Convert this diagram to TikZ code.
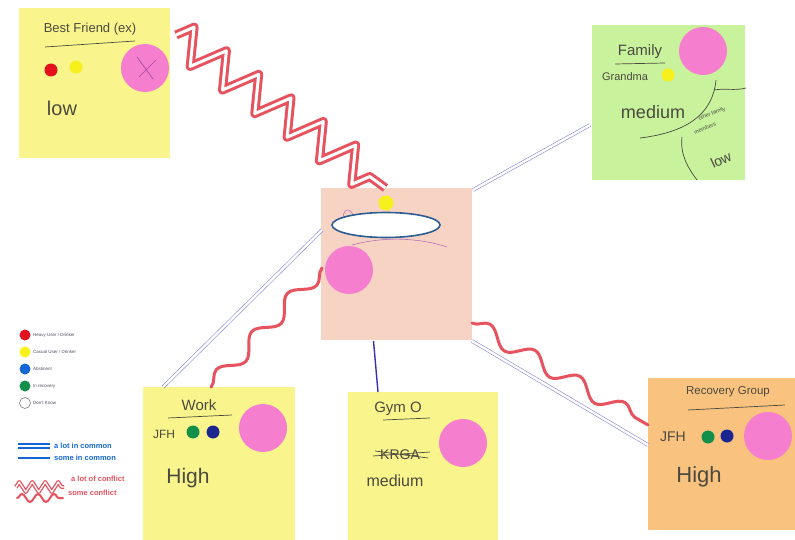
\documentclass[tikz,border=0pt]{standalone}
\usepackage{fontspec}
\setmainfont{Liberation Sans}
\usetikzlibrary{decorations.pathmorphing,calc,shapes.geometric}
\definecolor{noteyellow}{HTML}{F9F58C}
\definecolor{notegreen}{HTML}{C9F29C}
\definecolor{notepink}{HTML}{F7D3C4}
\definecolor{noteorange}{HTML}{FAC27F}
\definecolor{stickpink}{HTML}{F57ECF}
\definecolor{dotred}{HTML}{E5101E}
\definecolor{dotyellow}{HTML}{F7F01C}
\definecolor{dotnavy}{HTML}{1B2690}
\definecolor{dotgreen}{HTML}{12904A}
\definecolor{dotblue}{HTML}{1466D2}
\definecolor{linkblue}{HTML}{8A8ADE}
\definecolor{gymblue}{HTML}{3A30B0}
\definecolor{confred}{HTML}{E6525E}
\definecolor{handgray}{HTML}{4A4A40}
\definecolor{ellblue}{HTML}{2E5D93}
\definecolor{legtext}{HTML}{505060}
\tikzset{
  note/.style={anchor=north west, inner sep=0pt, outer sep=0pt, draw=none},
  dot/.style={circle, inner sep=0pt, minimum size=13pt},
  legdot/.style={circle, inner sep=0pt, minimum size=11pt},
  bigdot/.style={circle, inner sep=0pt, minimum size=48pt, fill=stickpink},
  hand/.style={text=handgray, inner sep=0pt},
  pen/.style={draw=handgray, line width=0.7pt},
  bigconflict/.style={draw=confred, line width=3pt, double=white, double distance=3pt, line join=round,
     decorate, decoration={zigzag, segment length=40pt, amplitude=17pt}},
  someconflict/.style={draw=confred, line width=3pt, line cap=round,
     decorate, decoration={snake, segment length=52pt, amplitude=8pt}},
  lotcommon/.style={draw=linkblue, line width=0.6pt, double=white, double distance=2.4pt},
  somecommon/.style={draw=gymblue, line width=1.4pt},
  legtxt/.style={anchor=west, inner sep=0pt, text=legtext, font=\fontsize{4.5}{5}\selectfont},
}
\begin{document}
\begin{tikzpicture}[x=1pt,y=-1pt]
\useasboundingbox (0,0) rectangle (795,540);
\fill[white] (0,0) rectangle (795,540);

% sticky notes
\node[note, fill=noteyellow, minimum width=151pt, minimum height=150pt] (bf) at (19,8) {};
\node[note, fill=notegreen, minimum width=153pt, minimum height=155pt] (fam) at (592,25) {};
\node[note, fill=notepink, minimum width=151pt, minimum height=152pt] (ctr) at (321,188) {};
\node[note, fill=noteyellow, minimum width=152pt, minimum height=153pt] (work) at (143,387) {};
\node[note, fill=noteyellow, minimum width=150pt, minimum height=148pt] (gym) at (348,392) {};
\node[note, fill=noteorange, minimum width=147pt, minimum height=152pt] (rec) at (648,378) {};

% connectors
\draw[bigconflict] ([shift={(6,27)}]bf.north east) -- ([shift={(-11,0)}]ctr.north);
\draw[lotcommon] ([shift={(1,2)}]ctr.north east) -- ([shift={(-2,100)}]fam.north west);
\draw[lotcommon] ([shift={(1,42)}]ctr.north west) -- ([shift={(20,0)}]work.north west);
\draw[lotcommon] ([shift={(0,1)}]ctr.south east) -- ([shift={(0,67)}]rec.north west);
\draw[somecommon] ([shift={(-23,1)}]ctr.south) -- ([shift={(-45,0)}]gym.north);
\draw[someconflict] ([shift={(1,80)}]ctr.north west) -- ([shift={(68,0)}]work.north west);
\draw[someconflict] ([shift={(0,-17)}]ctr.south east) -- ([shift={(0,47)}]rec.north west);

% Best Friend (ex)
\node[hand, font=\fontsize{13}{15}\selectfont] (bft) at (90,29) {Best Friend (ex)};
\draw[pen] (45,47) -- (135,41);
\node[dot, fill=dotred] (bfr) at (51,70) {};
\node[dot, fill=dotyellow] (bfy) at (76,67) {};
\node[bigdot] (bfp) at (145,68) {};
\draw[draw=violet!70, line width=0.7pt] (137,57) -- (153,79) (139,77) -- (156,60);
\node[hand, font=\fontsize{20}{22}\selectfont] (bfl) at (62,108) {low};

% Family
\node[hand, font=\fontsize{15}{17}\selectfont] (famt) at (640,52) {Family};
\draw[pen] (615,64) -- (665,63);
\node[bigdot] (famp) at (703,51) {};
\node[hand, font=\fontsize{11}{13}\selectfont] (famg) at (625,77) {Grandma};
\node[dot, fill=dotyellow] (famy) at (668,75) {};
\node[hand, font=\fontsize{18}{20}\selectfont] (famm) at (653,112) {medium};
\draw[pen] (640,138) .. controls (690,132) and (713,112) .. (716,80);
\draw[pen] (714,90) .. controls (725,88) and (735,91) .. (746,88);
\draw[pen] (682,137) .. controls (680,155) and (688,168) .. (697,180);
\node[hand, rotate=22, font=\fontsize{5.5}{6}\selectfont] (famo) at (712,114) {other family};
\node[hand, rotate=22, font=\fontsize{5.5}{6}\selectfont] (famo2) at (705,128) {members};
\node[hand, rotate=25, font=\fontsize{14}{16}\selectfont] (faml) at (721,160) {low};

% centre
\node[dot, minimum size=15pt, fill=dotyellow] (cty) at (386,203) {};
\draw[draw=violet!55, line width=0.6pt] (343,222) .. controls (342,208) and (350,206) .. (354,217);
\node[ellipse, draw=ellblue, fill=white, line width=1.6pt, minimum width=108pt, minimum height=25pt, inner sep=0pt] (ctre) at (386,225) {};
\draw[draw=violet!55, line width=0.6pt] (352,245) .. controls (385,236) and (420,238) .. (447,247);
\node[bigdot] (ctrp) at (349,270) {};

% Work
\node[hand, font=\fontsize{15}{17}\selectfont] (workt) at (199,405) {Work};
\draw[pen] (168,418) -- (232,415);
\node[hand, font=\fontsize{12}{14}\selectfont] (workj) at (164,434) {JFH};
\node[dot, fill=dotgreen] (workg) at (193,432) {};
\node[dot, fill=dotnavy] (workn) at (213,432) {};
\node[bigdot] (workp) at (263,428) {};
\node[hand, font=\fontsize{21}{23}\selectfont] (workh) at (188,478) {High};

% Gym
\node[hand, font=\fontsize{15}{17}\selectfont] (gymt) at (398,409) {Gym O};
\draw[pen] (383,420) -- (430,418);
\node[bigdot] (gymp) at (463,443) {};
\node[hand, font=\fontsize{14}{16}\selectfont] (gymk) at (400,455) {KRGA};
\draw[pen] (373,456) -- (430,452) (375,451) -- (428,458);
\node[hand, font=\fontsize{16}{18}\selectfont] (gymm) at (395,481) {medium};

% Recovery Group
\node[hand, font=\fontsize{11.5}{13}\selectfont] (rect) at (728,392) {Recovery Group};
\draw[pen] (688,410) -- (785,405);
\node[hand, font=\fontsize{14}{16}\selectfont] (recj) at (673,437) {JFH};
\node[dot, fill=dotgreen] (recg) at (708,437) {};
\node[dot, fill=dotnavy] (recn) at (727,436) {};
\node[bigdot] (recp) at (768,436) {};
\node[hand, font=\fontsize{22}{24}\selectfont] (rech) at (699,477) {High};

% legend
\node[legdot, fill=dotred] (l1) at (25,335) {};
\node[legtxt] (l1t) at (33,335) {Heavy User / Drinker};
\node[legdot, fill=dotyellow] (l2) at (25,352) {};
\node[legtxt] (l2t) at (33,352) {Casual User / Drinker};
\node[legdot, fill=dotblue] (l3) at (25,369) {};
\node[legtxt] (l3t) at (33,369) {Abstinent};
\node[legdot, fill=dotgreen] (l4) at (25,386) {};
\node[legtxt] (l4t) at (33,386) {In recovery};
\node[legdot, fill=white, draw=gray, line width=0.6pt] (l5) at (25,403) {};
\node[legtxt] (l5t) at (33,403) {Don't Know};

\coordinate (la1) at (18,446);
\coordinate (la2) at (50,446);
\draw[draw=dotblue, line width=1.9pt, double=white, double distance=1.3pt] (la1) -- (la2);
\node[anchor=west, inner sep=0pt, text=dotblue, font=\fontsize{7.5}{9}\selectfont\bfseries] (lat) at (54,446) {a lot in common};
\coordinate (lb1) at (18,458);
\coordinate (lb2) at (50,458);
\draw[draw=dotblue, line width=1.9pt] (lb1) -- (lb2);
\node[anchor=west, inner sep=0pt, text=dotblue, font=\fontsize{7.5}{9}\selectfont\bfseries] (lbt) at (54,458) {some in common};
\coordinate (lc1) at (16,487);
\coordinate (lc2) at (64,487);
\draw[draw=confred, line width=1.3pt, double=white, double distance=1.3pt, line join=round, decorate, decoration={zigzag, segment length=13pt, amplitude=5pt}] (lc1) -- (lc2);
\node[anchor=west, inner sep=0pt, text=confred, font=\fontsize{7.5}{9}\selectfont\bfseries] (lct) at (71,479) {a lot of conflict};
\coordinate (ld1) at (17,498);
\coordinate (ld2) at (63,498);
\draw[draw=confred, line width=2pt, line cap=round, decorate, decoration={snake, segment length=16pt, amplitude=4pt}] (ld1) -- (ld2);
\node[anchor=west, inner sep=0pt, text=confred, font=\fontsize{7.5}{9}\selectfont\bfseries] (ldt) at (68,493) {some conflict};
\end{tikzpicture}
\end{document}
